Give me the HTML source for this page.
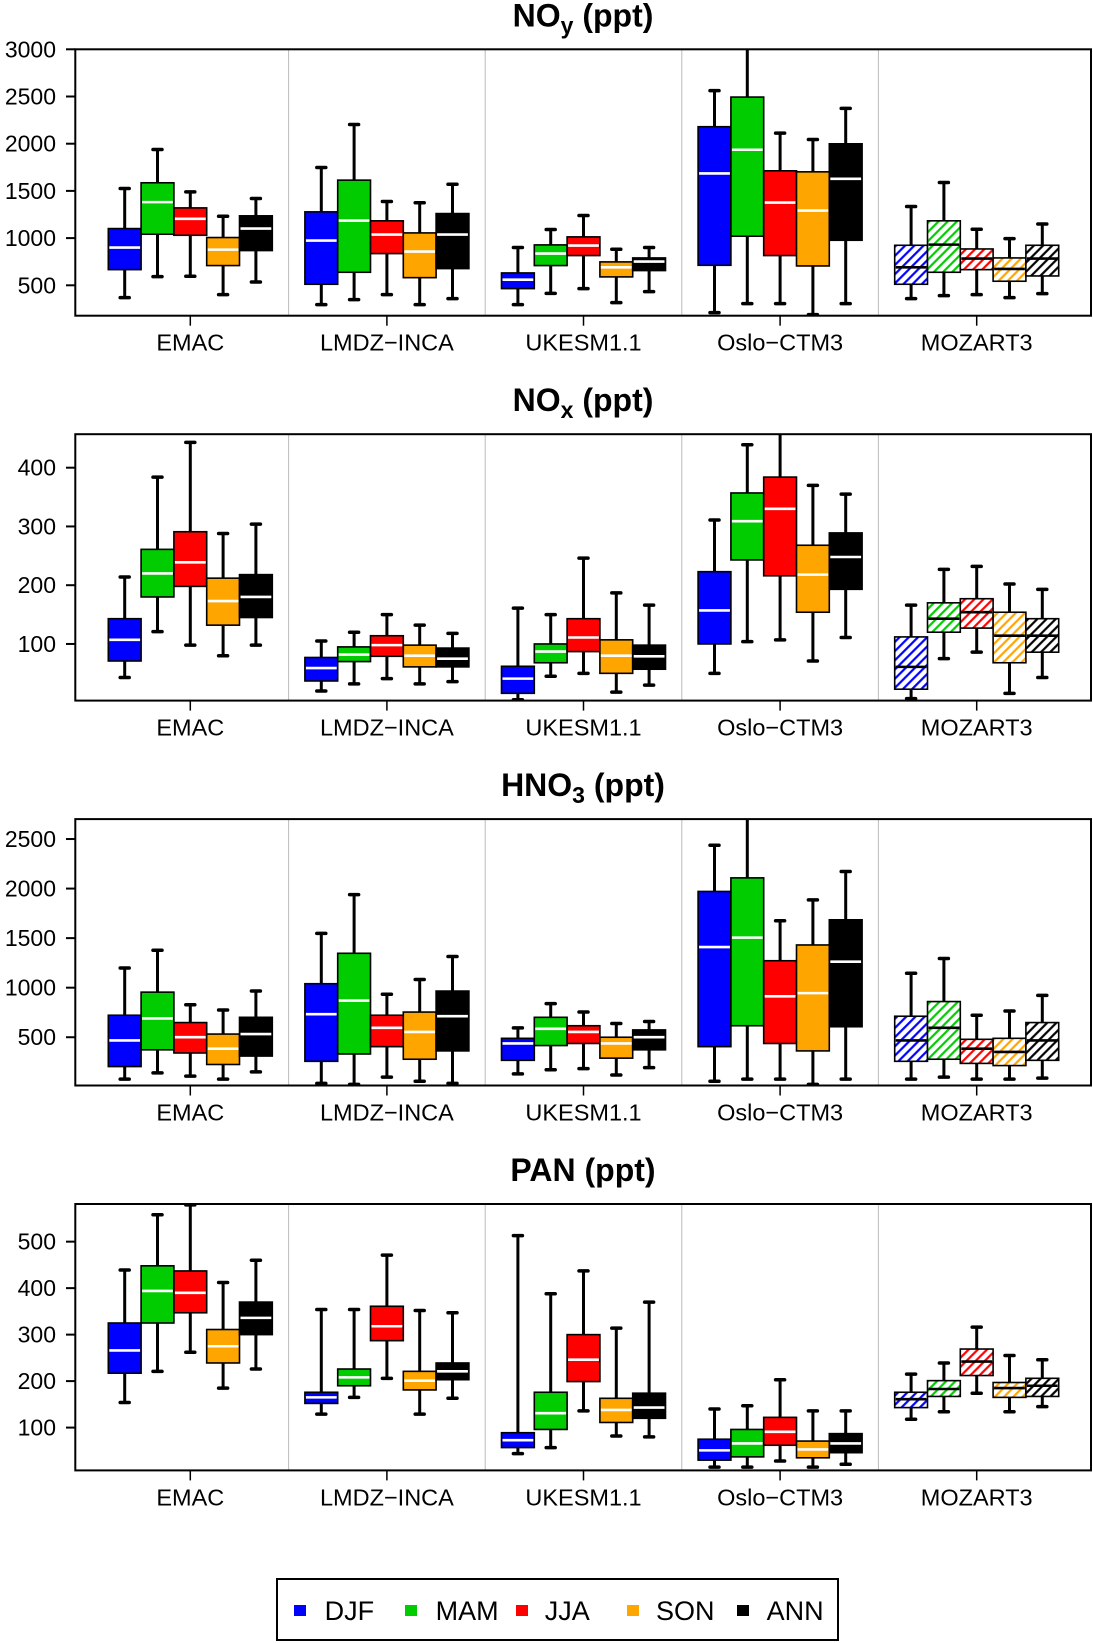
<!DOCTYPE html>
<html><head><meta charset="utf-8"><style>
html,body{margin:0;padding:0;background:#fff;}
svg{display:block;font-family:"Liberation Sans",sans-serif;}
</style></head><body>
<svg id="chart" width="1093" height="1643" viewBox="0 0 1093 1643" xmlns="http://www.w3.org/2000/svg">
<defs id="defs"></defs>
</svg>
<script>
const models = ["EMAC","LMDZ\u2212INCA","UKESM1.1","Oslo\u2212CTM3","MOZART3"];
const seasons = ["DJF","MAM","JJA","SON","ANN"];
const seasonColors = ["#0000ff","#00cc00","#ff0000","#ffa500","#000000"];
const panelTitles = [["NO","y"],["NO","x"],["HNO","3"],["PAN",""]];
const yDomains = [[178,3000],[3.6,457],[13,2701],[7.9,581]];
const yTicks = [[500,1000,1500,2000,2500,3000],[100,200,300,400],[500,1000,1500,2000,2500],[100,200,300,400,500]];
// each box: [min, q1, median, q3, max]; order models x seasons
const noyData = [
 [[369,666,900,1101,1525],[592,1041,1381,1586,1939],[596,1030,1204,1320,1490],[401,709,878,1006,1232],[535,868,1101,1236,1419]],
 [[295,511,974,1278,1748],[348,638,1186,1614,2204],[401,836,1038,1183,1388],[295,581,857,1055,1374],[359,677,1038,1260,1570]],
 [[295,465,560,631,900],[415,709,836,928,1091],[465,815,921,1013,1239],[316,589,691,748,882],[433,656,751,790,900]],
 [[210,712,1685,2180,2562],[306,1020,1936,2494,3050],[306,815,1377,1713,2112],[189,705,1292,1702,2045],[306,977,1628,1999,2374]],
 [[359,511,691,924,1335],[390,638,931,1183,1589],[401,666,783,885,1094],[369,543,673,790,995],[412,599,783,924,1150]]];
const noxData = [
 [[43,71,107,143,214],[121,180,220,261,384],[98,198,239,291,443],[80,132,173,212,288],[98,145,180,218,304]],
 [[20,37,59,77,105],[32,70,82,95,120],[41,79,98,114,150],[32,61,80,98,132],[36,61,75,93,118]],
 [[5,16,41,62,161],[45,68,87,100,150],[50,87,111,143,246],[18,50,80,107,187],[30,57,79,98,166]],
 [[50,100,157,223,311],[104,243,309,357,439],[107,216,330,384,460],[71,154,218,268,370],[111,193,248,289,355]],
 [[7,23,61,112,166],[75,120,143,170,227],[86,127,154,177,232],[16,68,114,154,202],[43,86,114,143,193]]];
const hno3Data = [
 [[77,204,468,722,1198],[140,373,690,955,1378],[108,341,500,648,828],[77,225,384,532,775],[151,310,532,701,966]],
 [[34,257,733,1040,1548],[24,331,870,1347,1939],[98,405,595,722,934],[56,278,553,754,1082],[34,362,712,966,1315]],
 [[130,267,437,489,595],[172,416,585,701,839],[183,437,553,616,754],[119,289,437,500,638],[193,373,500,574,659]],
 [[56,405,1410,1971,2437],[77,616,1505,2108,2750],[77,437,913,1272,1675],[24,362,945,1431,1886],[77,606,1262,1685,2172]],
 [[77,257,468,712,1145],[98,278,595,860,1294],[77,236,384,479,722],[77,214,352,489,765],[87,267,468,648,923]]];
const panData = [
 [[154,217,266,325,439],[221,325,394,448,558],[262,347,390,437,579],[185,239,275,311,412],[226,300,336,370,460]],
 [[129,152,165,176,354],[165,190,208,226,354],[206,287,318,361,471],[129,181,201,221,352],[163,203,221,239,347]],
 [[44,57,73,89,513],[57,96,131,176,388],[136,199,246,300,437],[82,111,138,163,314],[80,120,143,174,370]],
 [[15,30,51,75,140],[15,37,66,96,147],[28,62,91,122,203],[15,35,53,71,136],[21,46,66,87,136]],
 [[118,143,161,176,215],[134,167,183,201,239],[174,212,242,269,316],[134,165,185,197,255],[145,167,190,206,246]]];
const allData = [noyData, noxData, hno3Data, panData];

const NS="http://www.w3.org/2000/svg";
const svg=document.getElementById('chart');
const defs=document.getElementById('defs');
function mk(tag,attrs,parent){const e=document.createElementNS(NS,tag);for(const k in attrs)e.setAttribute(k,attrs[k]);(parent||svg).appendChild(e);return e;}

seasonColors.forEach((c,i)=>{
  const p=mk('pattern',{id:'hatch'+i,patternUnits:'userSpaceOnUse',width:6.5,height:6.5,patternTransform:'rotate(45)'},defs);
  mk('rect',{x:0,y:0,width:6.5,height:6.5,fill:'#fff'},p);
  mk('line',{x1:1.2,y1:0,x2:1.2,y2:6.5,stroke:c,'stroke-width':2.2},p);
});

const plotL=75.3, plotR=1091, panelH=266.4, panelStep=384.9, firstTop=49.3;
const groupC0=190.3, groupStep=196.6, boxStep=32.8, boxW=32.8;
const xGroup=g=>groupC0+g*groupStep;
const xBox=(g,s)=>xGroup(g)+(s-2)*boxStep;

allData.forEach((data,pi)=>{
  const top=firstTop+pi*panelStep, bot=top+panelH;
  const [d0,d1]=yDomains[pi];
  const y=v=>bot-(v-d0)/(d1-d0)*panelH;
  const g=mk('g',{});
  
  
  const t=mk('text',{x:583,y:top-23,'text-anchor':'middle','font-size':32,'font-weight':'bold'},g);
  
  
  const ts1=mk('tspan',{},t);ts1.textContent=panelTitles[pi][0];
  if(panelTitles[pi][1]){const ts2=mk('tspan',{dy:7,'font-size':23},t);ts2.textContent=panelTitles[pi][1];
    const ts3=mk('tspan',{dy:-7},t);ts3.textContent=' (ppt)';}
  else{const ts3=mk('tspan',{},t);ts3.textContent=' (ppt)';}
  const clipId='clip'+pi;
  const cp=mk('clipPath',{id:clipId},defs);
  mk('rect',{x:plotL,y:top,width:plotR-plotL,height:panelH},cp);
  for(let k=0;k<4;k++){
    const xd=xGroup(k)+groupStep/2;
    const l=mk('line',{x1:xd,x2:xd,y1:top,y2:bot,stroke:'#bbb','stroke-width':1},g);
    
    
  }
  yTicks[pi].forEach(v=>{
    const yy=y(v);
    mk('line',{x1:66,x2:plotL,y1:yy,y2:yy,stroke:'#000','stroke-width':2},g);
    const tl=mk('text',{x:56,y:yy+8,'text-anchor':'end','font-size':23},g);
    
    
    tl.textContent=v;
  });
  models.forEach((m,gi)=>{
    const xx=xGroup(gi);
    mk('line',{x1:xx,x2:xx,y1:bot,y2:bot+10,stroke:'#000','stroke-width':1.5},g);
    const xl=mk('text',{x:xx,y:bot+35,'text-anchor':'middle','font-size':23.5},g);
    
    
    xl.textContent=m;
  });
  const bg=mk('g',{'clip-path':'url(#'+clipId+')'},g);
  data.forEach((row,gi)=>{
    row.forEach((b,si)=>{
      const cx=xBox(gi,si);
      const hatched=gi===4;
      const bx=mk('g',{},bg);
      
      
      mk('line',{x1:cx,x2:cx,y1:y(b[3]),y2:y(b[4]),stroke:'#000','stroke-width':3},bx);
      mk('line',{x1:cx,x2:cx,y1:y(b[1]),y2:y(b[0]),stroke:'#000','stroke-width':3},bx);
      mk('line',{x1:cx-4.5,x2:cx+4.5,y1:y(b[4]),y2:y(b[4]),stroke:'#000','stroke-width':3.5,'stroke-linecap':'round'},bx);
      mk('line',{x1:cx-4.5,x2:cx+4.5,y1:y(b[0]),y2:y(b[0]),stroke:'#000','stroke-width':3.5,'stroke-linecap':'round'},bx);
      mk('rect',{x:cx-boxW/2,y:y(b[3]),width:boxW,height:y(b[1])-y(b[3]),fill:hatched?'url(#hatch'+si+')':seasonColors[si],stroke:'#000','stroke-width':1.6},bx);
      mk('line',{x1:cx-boxW/2+1,x2:cx+boxW/2-1,y1:y(b[2]),y2:y(b[2]),stroke:hatched?'#000':'#fff','stroke-width':2.6},bx);
    });
  });
  const fr=mk('rect',{x:plotL,y:top,width:plotR-plotL,height:panelH,fill:'none',stroke:'#000','stroke-width':2},g);
  
  
});

const lg=mk('g',{});


mk('rect',{x:277,y:1579,width:561,height:61,fill:'#fff',stroke:'#000','stroke-width':2},lg);
const sqX=[294,405,516,627,737], lbX=[324.6,435.6,544.7,656,766.6];
seasons.forEach((s,i)=>{
  const e=mk('g',{},lg);
  
  
  mk('rect',{x:sqX[i],y:1605,width:12,height:11,fill:seasonColors[i]},e);
  const t=mk('text',{x:lbX[i],y:1620,'font-size':27},e);
  t.textContent=s;
});
</script>
</body></html>
